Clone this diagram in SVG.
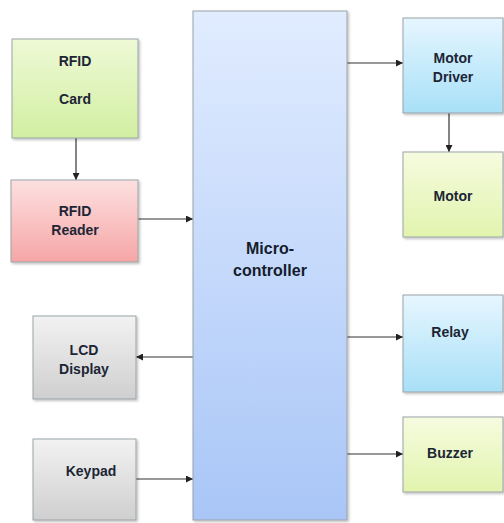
<svg xmlns="http://www.w3.org/2000/svg" width="504" height="523" viewBox="0 0 504 523">
<style>
.box{stroke:#9aa3a8;stroke-width:1}
.t{font-family:"Liberation Sans",Arial,sans-serif;font-weight:bold;font-size:14px;fill:#1c2535;text-anchor:middle}
.tb{font-family:"Liberation Sans",Arial,sans-serif;font-weight:bold;font-size:16px;fill:#141c2c;text-anchor:middle}
.c{stroke:#333;stroke-width:1.2;fill:none;marker-end:url(#ah)}
</style>
<defs>
<marker id="ah" viewBox="0 0 10 10" refX="10" refY="5" markerWidth="7" markerHeight="7" markerUnits="userSpaceOnUse" orient="auto"><path d="M0,0 L10,5 L0,10 z" fill="#222"/></marker>
<linearGradient id="gGreen" x1="0" y1="0" x2="0" y2="1"><stop offset="0" stop-color="#eef9d6"/><stop offset="1" stop-color="#d2efa2"/></linearGradient>
<linearGradient id="gYel" x1="0" y1="0" x2="0" y2="1"><stop offset="0" stop-color="#f6fbdf"/><stop offset="1" stop-color="#e2f4ae"/></linearGradient>
<linearGradient id="gPink" x1="0" y1="0" x2="0" y2="1"><stop offset="0" stop-color="#fde0e0"/><stop offset="1" stop-color="#f6a6a6"/></linearGradient>
<linearGradient id="gGray" x1="0" y1="0" x2="0" y2="1"><stop offset="0" stop-color="#f2f2f2"/><stop offset="1" stop-color="#cfcfcf"/></linearGradient>
<linearGradient id="gBlue" x1="0" y1="0" x2="0" y2="1"><stop offset="0" stop-color="#e1ecff"/><stop offset="1" stop-color="#a9c6f7"/></linearGradient>
<linearGradient id="gCyan" x1="0" y1="0" x2="0" y2="1"><stop offset="0" stop-color="#e6f6ff"/><stop offset="1" stop-color="#a8e0f7"/></linearGradient>
<filter id="sh" x="-10%" y="-10%" width="130%" height="130%"><feDropShadow dx="1.5" dy="1.5" stdDeviation="1.2" flood-color="#000" flood-opacity="0.25"/></filter>
</defs>
<rect width="504" height="523" fill="#ffffff"/>
<g id="connectors">
<line class="c" x1="76" y1="138" x2="76" y2="180"/>
<line class="c" x1="138" y1="219" x2="193" y2="219"/>
<line class="c" x1="193" y1="357" x2="136" y2="357"/>
<line class="c" x1="136" y1="479" x2="193" y2="479"/>
<line class="c" x1="347" y1="63" x2="403" y2="63"/>
<line class="c" x1="449" y1="113" x2="449" y2="152"/>
<line class="c" x1="347" y1="337" x2="403" y2="337"/>
<line class="c" x1="347" y1="454" x2="403" y2="454"/>
</g>
<g id="rfid-card"><rect class="box" x="12" y="39" width="126" height="99" fill="url(#gGreen)" filter="url(#sh)"/><text class="t" x="75" y="66">RFID</text><text class="t" x="75" y="104">Card</text></g>
<g id="rfid-reader"><rect class="box" x="11" y="180" width="127" height="82" fill="url(#gPink)" filter="url(#sh)"/><text class="t" x="75" y="216">RFID</text><text class="t" x="75" y="235">Reader</text></g>
<g id="lcd"><rect class="box" x="33" y="316" width="103" height="83" fill="url(#gGray)" filter="url(#sh)"/><text class="t" x="84" y="355">LCD</text><text class="t" x="84" y="374">Display</text></g>
<g id="keypad"><rect class="box" x="33" y="439" width="103" height="81" fill="url(#gGray)" filter="url(#sh)"/><text class="t" x="91" y="476">Keypad</text></g>
<g id="mcu"><rect class="box" x="193" y="11" width="154" height="509" fill="url(#gBlue)" filter="url(#sh)"/><text class="tb" x="270" y="254">Micro-</text><text class="tb" x="270" y="276">controller</text></g>
<g id="motor-driver"><rect class="box" x="403" y="18" width="100" height="95" fill="url(#gCyan)" filter="url(#sh)"/><text class="t" x="453" y="63">Motor</text><text class="t" x="453" y="82">Driver</text></g>
<g id="motor"><rect class="box" x="403" y="152" width="100" height="85" fill="url(#gYel)" filter="url(#sh)"/><text class="t" x="453" y="201">Motor</text></g>
<g id="relay"><rect class="box" x="403" y="295" width="100" height="97" fill="url(#gCyan)" filter="url(#sh)"/><text class="t" x="450" y="337">Relay</text></g>
<g id="buzzer"><rect class="box" x="403" y="417" width="100" height="75" fill="url(#gYel)" filter="url(#sh)"/><text class="t" x="450" y="458">Buzzer</text></g>
</svg>
